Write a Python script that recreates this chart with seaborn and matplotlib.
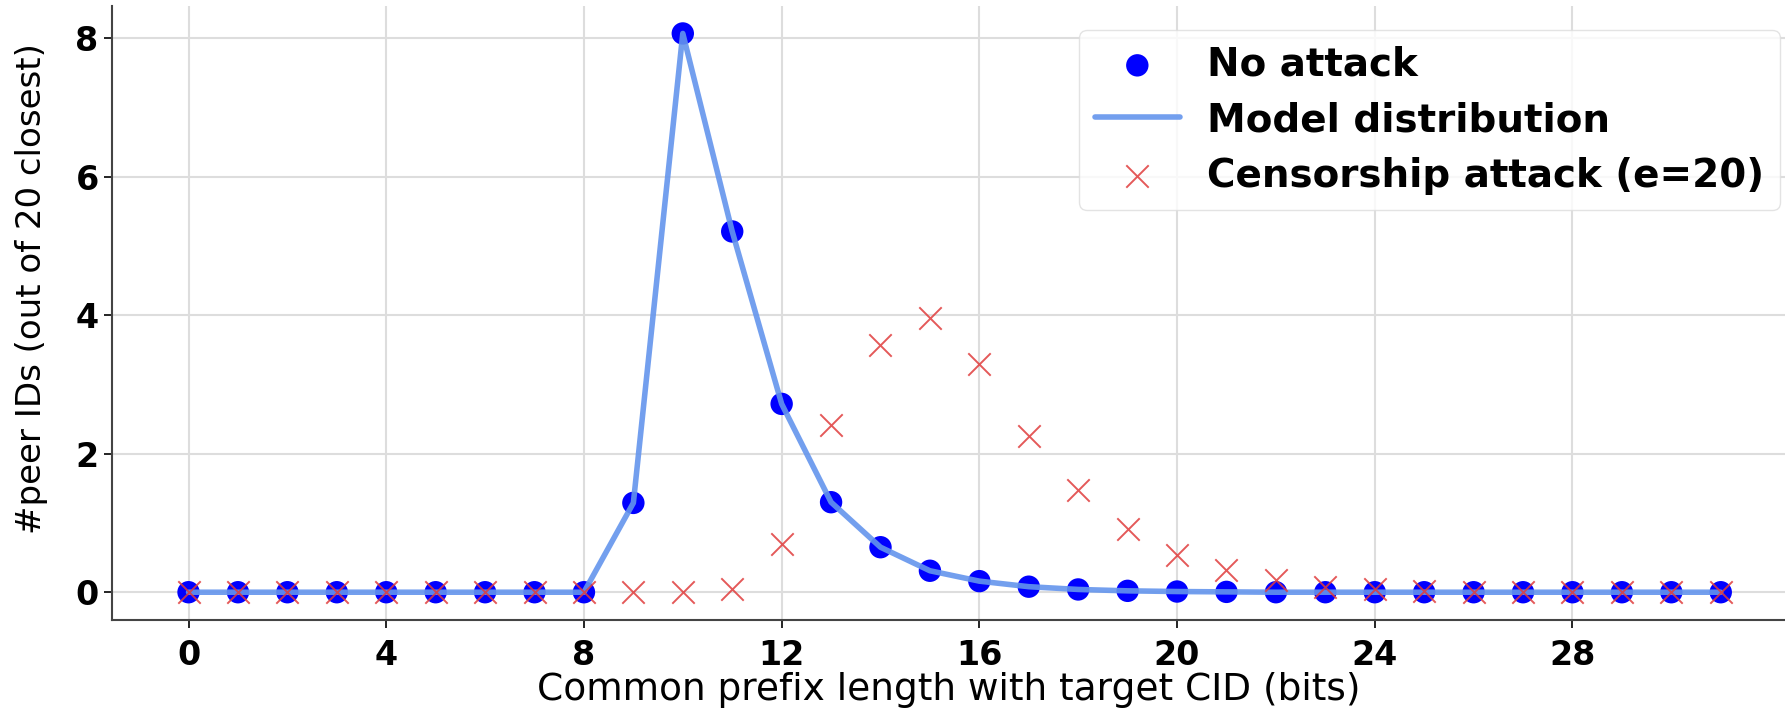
import numpy as np
import pandas as pd
import seaborn as sns
import matplotlib.pyplot as plt

# Data
prefix_len = list(range(32))
no_attack = [0, 0, 0, 0, 0, 0, 0, 0, 0, 1.29, 8.07, 5.21, 2.72, 1.30, 0.65, 0.31,
             0.16, 0.08, 0.04, 0.02, 0.01, 0.005, 0, 0, 0, 0, 0, 0, 0, 0, 0, 0]
model_dist = [0, 0, 0, 0, 0, 0, 0, 0, 0, 1.29, 8.07, 5.21, 2.72, 1.30, 0.65, 0.31,
              0.16, 0.08, 0.04, 0.02, 0.01, 0.005, 0, 0, 0, 0, 0, 0, 0, 0, 0, 0]
censorship = [0, 0, 0, 0, 0, 0, 0, 0, 0, 0, 0, 0.04, 0.70, 2.41, 3.57, 3.96,
              3.29, 2.25, 1.48, 0.91, 0.54, 0.32, 0.18, 0.08, 0.04, 0.02, 0, 0, 0, 0, 0, 0]

df = pd.DataFrame({'x': prefix_len, 'no_attack': no_attack,
                   'model': model_dist, 'censor': censorship})

sns.set_style('whitegrid')
plt.rcParams['font.family'] = ['DejaVu Sans']
plt.rcParams['text.color'] = 'black'
plt.rcParams['axes.labelcolor'] = 'black'
plt.rcParams['xtick.color'] = 'black'
plt.rcParams['ytick.color'] = 'black'

fig = plt.figure(figsize=(17.85, 7.2), dpi=100)
ax = fig.add_axes([0.0627, 0.139, 0.9373, 0.853])

sns.scatterplot(data=df, x='x', y='no_attack', ax=ax, color='blue', s=260,
                edgecolor='none', label='No attack', zorder=3)
sns.lineplot(data=df, x='x', y='model', ax=ax, color='cornflowerblue', lw=4,
             alpha=0.9, label='Model distribution', zorder=4)
sns.scatterplot(data=df, x='x', y='censor', ax=ax, color='#e03c3c', marker='x',
                s=260, linewidth=1.4, alpha=0.85, label='Censorship attack (e=20)', zorder=5)

ax.set_xlim(-1.55, 32.3)
ax.set_ylim(-0.40, 8.47)
ax.set_xticks(range(0, 29, 4))
ax.set_yticks(range(0, 9, 2))
ax.tick_params(axis='both', labelsize=24, length=6, width=1.2, left=True, bottom=True)
ax.tick_params(axis='x', pad=8)
for lbl in ax.get_xticklabels() + ax.get_yticklabels():
    lbl.set_fontweight('bold')

ax.set_xlabel('Common prefix length with target CID (bits)', fontsize=27, labelpad=0)
ax.set_ylabel('#peer IDs (out of 20 closest)', fontsize=24.5)
ax.yaxis.set_label_coords(-0.038, 0.54)

ax.grid(True, color='#dddddd', linewidth=1.5)
ax.spines['top'].set_visible(False)
ax.spines['right'].set_visible(False)
for s in ['left', 'bottom']:
    ax.spines[s].set_color('#444444')
    ax.spines[s].set_linewidth(1.5)

leg = ax.legend(loc='upper right', bbox_to_anchor=(1780 / 1785, 1 - 30 / 720),
                bbox_transform=fig.transFigure, borderaxespad=0,
                prop={'weight': 'bold', 'size': 28}, frameon=True,
                handlelength=2.2, handletextpad=0.7, labelspacing=0.45, borderpad=0.4)
leg.get_frame().set_edgecolor('#dddddd')

fig.savefig('out.png', dpi=100)
